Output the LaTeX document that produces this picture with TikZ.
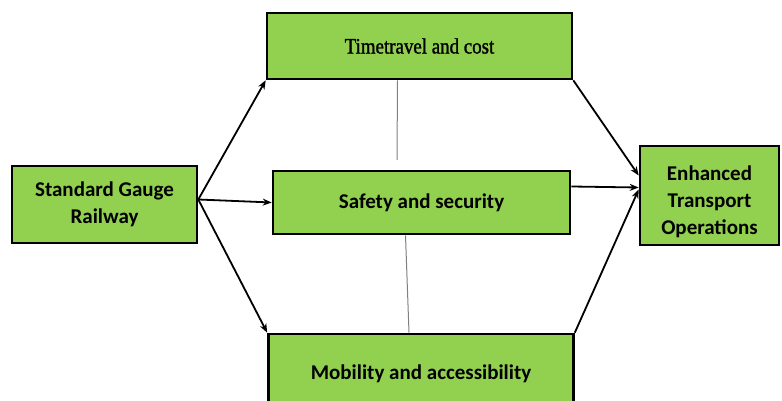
\documentclass[tikz,border=0pt]{standalone}
\usepackage{fontspec}
\setmainfont{Carlito}
\newfontfamily\timesfont[FakeStretch=0.86, FakeBold=1.2]{Liberation Serif}
\usetikzlibrary{arrows.meta, positioning}

\begin{document}
\begin{tikzpicture}[>={Stealth[length=9pt,width=7pt]}, x=1pt, y=1pt,
    box/.style={draw, line width=2.6pt, fill=boxgreen, align=center, inner sep=0pt,
        font=\fontsize{21}{27}\selectfont\bfseries}]
        \definecolor{boxgreen}{HTML}{92D050}
        \useasboundingbox (0,0) rectangle (782,401);

        \node[box, minimum width=185, minimum height=77] (SGR) at (104.5,196.5) {Standard Gauge\\Railway};
        \node[box, minimum width=305, minimum height=66, font=\fontsize{22}{27}\selectfont\timesfont] (TTC) at (419.5,355) {Timetravel and cost};
        \node[box, minimum width=297, minimum height=63] (SS) at (421.5,198.5) {Safety and security};
        \node[box, minimum width=305, minimum height=80] (MA) at (421,27) {Mobility and accessibility};
        \node[box, minimum width=139, minimum height=99, font=\fontsize{21}{27}\selectfont\bfseries] (ETO) at (709.5,205.5) {\rule{0pt}{28pt}Enhanced\\Transport\\Operations};

        \draw[->, line width=1.8pt] ([yshift=5]SGR.east) -- (TTC.south west);
        \draw[->, line width=1.8pt] ([yshift=5]SGR.east) -- (SS.west);
        \draw[->, line width=1.8pt] ([yshift=5]SGR.east) -- (MA.north west);

        \draw[->, line width=1.8pt] (TTC.south east) -- ([yshift=20]ETO.west);
        \draw[->, line width=1.8pt] ([yshift=16]SS.east) -- ([yshift=8]ETO.west);
        \draw[->, line width=1.8pt] (MA.north east) -- ([yshift=6]ETO.west);

        % links between the middle boxes
        \coordinate (gap) at (397,241);
        \draw[gray, line width=1pt] ([xshift=-22]TTC.south) -- (gap);
        \draw[gray, line width=1pt] ([xshift=-16]SS.south) -- ([xshift=-12]MA.north);
    \end{tikzpicture}
\end{document}
